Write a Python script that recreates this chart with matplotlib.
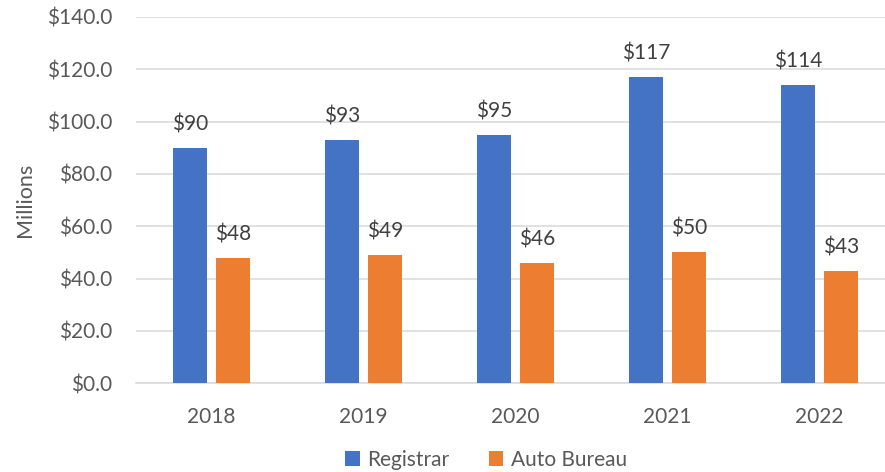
import matplotlib
matplotlib.use("Agg")
import matplotlib.pyplot as plt
import numpy as np

years = ["2018", "2019", "2020", "2021", "2022"]
registrar = [90, 93, 95, 117, 114]
auto_bureau = [48, 49, 46, 50, 43]
series_names = ["Registrar", "Auto Bureau"]
yticks = [0, 20, 40, 60, 80, 100, 120, 140]

plt.rcParams['font.family'] = ['Lato', 'DejaVu Sans']

W, H = 885, 472
fig = plt.figure(figsize=(W / 100, H / 100), dpi=100)
left, right = 135.5, 895.5
top, bottom = 17, 383.3
ax = fig.add_axes([left / W, 1 - bottom / H, (right - left) / W, (bottom - top) / H])

x = np.arange(len(years))
bw = 0.2237
off = 0.1425
c_blue = "#4472C4"
c_orange = "#ED7D31"
b1 = ax.bar(x - off, registrar, bw, color=c_blue, label=series_names[0], zorder=3)
b2 = ax.bar(x + off, auto_bureau, bw, color=c_orange, label=series_names[1], zorder=3)

for bars, vals in ((b1, registrar), (b2, auto_bureau)):
    for r, v in zip(bars, vals):
        ax.annotate(f"${v}", (r.get_x() + r.get_width() / 2, v), xytext=(0, 12.6),
                    textcoords="offset points", ha="center", va="baseline",
                    fontsize=15, color="#404040")

ax.set_xlim(-0.5, len(years) - 0.5)
ax.set_ylim(0, 140)
ax.set_yticks(yticks)
ax.set_yticklabels([f"${v:.1f}" for v in yticks])
ax.set_xticks(x)
ax.set_xticklabels(years)
ax.tick_params(axis="both", length=0, labelsize=15, labelcolor="#595959")
ax.tick_params(axis="y", pad=16.5)
ax.tick_params(axis="x", pad=17)
ax.yaxis.grid(True, color="#D9D9D9", linewidth=1.1, zorder=0)
ax.set_axisbelow(True)
for s in ("top", "right", "left"):
    ax.spines[s].set_visible(False)
ax.spines["bottom"].set_color("#D9D9D9")
ax.spines["bottom"].set_linewidth(1.1)

fig.text(25 / W, 1 - 200 / H, "Millions", rotation=90, ha="center", va="center",
         fontsize=15.5, color="#595959")

fig.legend(handles=[b1, b2], labels=series_names, loc="center",
           bbox_to_anchor=(486 / W, 1 - 460 / H), ncol=2, frameon=False,
           fontsize=15, labelcolor="#595959", handlelength=0.7, handleheight=0.7,
           handletextpad=0.35, columnspacing=1.9)

fig.savefig("out.png", dpi=100)
